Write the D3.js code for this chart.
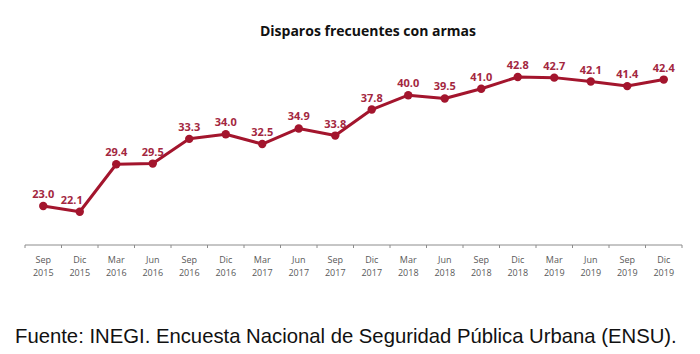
<!DOCTYPE html>
<html>
<head>
<meta charset="utf-8">
<script src="https://cdn.jsdelivr.net/npm/d3@7"></script>
<style>
  body { margin: 0; background: #fff; }
  .tick-lbl { font-family: "Open Sans", sans-serif; font-size: 9px; fill: #595959; }
  .val-lbl { font-family: "Open Sans", sans-serif; font-size: 11px; font-weight: bold; fill: #a3273f; }
</style>
</head>
<body>
<div id="chart"></div>
<script>
// chart size
var svgWidth = 700;
var svgHeight = 354;

var margin = { top: 62, right: 18, bottom: 109, left: 25 };
var chartWidth = svgWidth - margin.left - margin.right;
var chartHeight = svgHeight - margin.top - margin.bottom;

// data
var months = ["Sep", "Dic", "Mar", "Jun", "Sep", "Dic", "Mar", "Jun", "Sep", "Dic",
  "Mar", "Jun", "Sep", "Dic", "Mar", "Jun", "Sep", "Dic"];
var years = ["2015", "2015", "2016", "2016", "2016", "2016", "2017", "2017", "2017", "2017",
  "2018", "2018", "2018", "2018", "2019", "2019", "2019", "2019"];
var values = [23.0, 22.1, 29.4, 29.5, 33.3, 34.0, 32.5, 34.9, 33.8, 37.8,
  40.0, 39.5, 41.0, 42.8, 42.7, 42.1, 41.4, 42.4];
var title = "Disparos frecuentes con armas";
var source = "Fuente: INEGI. Encuesta Nacional de Seguridad Pública Urbana (ENSU).";

var lineColor = "#a3152d";

var svg = d3.select("#chart")
  .append("svg")
  .attr("width", svgWidth)
  .attr("height", svgHeight);

var chartGroup = svg.append("g")
  .attr("transform", `translate(${margin.left}, ${margin.top})`);

var periods = months.map((m, i) => i);

var xScale = d3.scaleBand()
  .domain(periods)
  .range([0, chartWidth]);

var yScale = d3.scaleLinear()
  .domain([17, 45.1])
  .range([chartHeight, 0]);

// bottom axis with ticks on the band edges
chartGroup.append("line")
  .attr("x1", 0)
  .attr("x2", chartWidth)
  .attr("y1", chartHeight)
  .attr("y2", chartHeight)
  .attr("stroke", "#8c8c8c")
  .attr("stroke-width", 1);

var edges = periods.map(d => xScale(d)).concat([chartWidth]);
chartGroup.selectAll(".edge")
  .data(edges)
  .enter()
  .append("line")
  .attr("class", "edge")
  .attr("x1", d => d)
  .attr("x2", d => d)
  .attr("y1", chartHeight)
  .attr("y2", chartHeight + 3)
  .attr("stroke", "#8c8c8c");

var tickLabels = chartGroup.selectAll(".tick-lbl")
  .data(periods)
  .enter()
  .append("text")
  .attr("class", "tick-lbl")
  .attr("text-anchor", "middle")
  .attr("x", d => xScale(d) + xScale.bandwidth() / 2)
  .attr("y", chartHeight + 18);

tickLabels.append("tspan")
  .attr("x", d => xScale(d) + xScale.bandwidth() / 2)
  .text(d => months[d]);
tickLabels.append("tspan")
  .attr("x", d => xScale(d) + xScale.bandwidth() / 2)
  .attr("dy", 13)
  .text(d => years[d]);

// line
var drawLine = d3.line()
  .x(d => xScale(d) + xScale.bandwidth() / 2)
  .y(d => yScale(values[d]));

chartGroup.append("path")
  .datum(periods)
  .attr("d", drawLine)
  .attr("fill", "none")
  .attr("stroke", lineColor)
  .attr("stroke-width", 3)
  .attr("stroke-linejoin", "round");

chartGroup.selectAll("circle")
  .data(periods)
  .enter()
  .append("circle")
  .attr("cx", d => xScale(d) + xScale.bandwidth() / 2)
  .attr("cy", d => yScale(values[d]))
  .attr("r", 4.2)
  .attr("fill", lineColor);

// the 22.1 label sits a little to the left in the original
chartGroup.selectAll(".val-lbl")
  .data(periods)
  .enter()
  .append("text")
  .attr("class", "val-lbl")
  .attr("text-anchor", "middle")
  .attr("x", d => xScale(d) + xScale.bandwidth() / 2 - (d === 1 ? 8 : 0))
  .attr("y", d => yScale(values[d]) - 8)
  .text(d => values[d].toFixed(1));

// title
svg.append("text")
  .attr("x", 368)
  .attr("y", 36)
  .attr("text-anchor", "middle")
  .attr("font-family", "Open Sans, sans-serif")
  .attr("font-weight", "bold")
  .attr("font-size", "14px")
  .attr("fill", "#111")
  .text(title);

// source note
svg.append("text")
  .attr("x", 15)
  .attr("y", 343)
  .attr("font-family", "Liberation Sans, Arial, sans-serif")
  .attr("font-size", "20.3px")
  .attr("fill", "#111")
  .text(source);
</script>
</body>
</html>
